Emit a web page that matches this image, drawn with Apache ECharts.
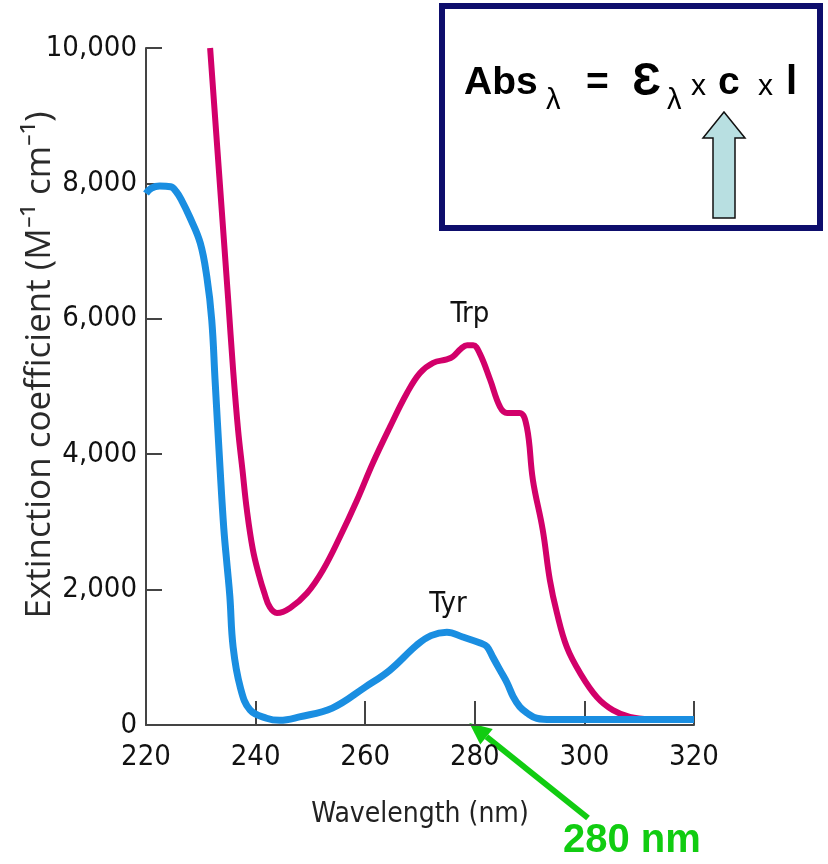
<html lang="en">
<head>
    <meta charset="UTF-8">
    <title>Extinction coefficient</title>
    <script src="https://cdn.jsdelivr.net/npm/echarts@6/dist/echarts.min.js"></script>
    <style>
        body { margin: 0; background: #fff; }
    </style>
</head>
<body>
    <div id="main" style="width: 828px;height: 864px"></div>
    <script type="text/javascript">
        // wavelength (nm) and extinction coefficient
        var tyrNm = [220, 221, 222.5, 224.5, 225.5, 226.5, 228, 229.9, 231.1, 232, 232.6, 233.5, 234.2, 234.8, 235.3, 235.9, 237.2, 239, 242, 244.4, 248, 254, 260, 264.5, 269.4, 272, 274.9, 277.8, 281, 282.2, 283.3, 284.6, 285.9, 287, 288.2, 289.5, 291.3, 294, 300, 310, 320];
        var tyrEps = [7850, 7930, 7960, 7950, 7880, 7750, 7500, 7120, 6620, 5980, 5100, 3810, 2900, 2350, 1900, 1150, 560, 220, 100, 70, 120, 250, 560, 810, 1180, 1320, 1370, 1300, 1210, 1160, 1000, 810, 620, 420, 270, 180, 100, 80, 80, 80, 80];
        var trpNm = [231.7, 233.4, 235, 235.9, 236.8, 237.6, 238.4, 239.5, 240.6, 241.6, 242.6, 243.9, 246.3, 249.4, 252.3, 255.4, 258.5, 261.4, 264.5, 267.6, 270, 272.4, 274.9, 276, 277.5, 278.6, 279.7, 280.9, 282.8, 284.6, 285.9, 288.2, 289.5, 290.6, 292.4, 293.7, 295, 296.8, 299.2, 302.3, 305.2, 308.3, 312];
        var trpEps = [10000, 8080, 6280, 5240, 4360, 3770, 3180, 2590, 2220, 1950, 1740, 1655, 1730, 1950, 2290, 2780, 3320, 3870, 4400, 4900, 5200, 5350, 5400, 5440, 5560, 5610, 5610, 5490, 5100, 4700, 4610, 4610, 4400, 3620, 2880, 2140, 1650, 1150, 770, 410, 220, 120, 85];
        var xTicks = [220, 320, 20];
        var yTicks = [0, 10000, 2000];
        var curveLabels = [['Trp', 279.1, 6070], ['Tyr', 275.1, 1773]];
        var arrowNm = 279;

        function pairs(xs, ys) {
            var out = [];
            for (var i = 0; i < xs.length; i++) out.push([xs[i], ys[i]]);
            return out;
        }

        var tickFont = '"DejaVu Sans Condensed", sans-serif';
        var myChart = echarts.init(document.getElementById('main'));
        var option = {
            animation: false,
            backgroundColor: '#fff',
            grid: { left: 146, right: 134, top: 48, bottom: 139 },
            xAxis: {
                type: 'value',
                min: xTicks[0], max: xTicks[1], interval: xTicks[2],
                name: 'Wavelength (nm)',
                nameLocation: 'middle',
                nameGap: 76,
                nameTextStyle: { fontFamily: tickFont, fontSize: 28, color: '#222' },
                axisLine: { lineStyle: { color: '#444', width: 2 } },
                axisTick: { inside: true, length: 24, lineStyle: { color: '#444', width: 2 } },
                axisLabel: { fontFamily: tickFont, fontSize: 29, color: '#111', margin: 18 },
                splitLine: { show: false }
            },
            yAxis: {
                type: 'value',
                min: yTicks[0], max: yTicks[1], interval: yTicks[2],
                axisLine: { show: true, lineStyle: { color: '#444', width: 2 } },
                axisTick: { show: true, inside: true, length: 16, lineStyle: { color: '#444', width: 2 } },
                axisLabel: {
                    fontFamily: tickFont, fontSize: 29, color: '#111', margin: 9,
                    formatter: function (v) { return echarts.format.addCommas(v); }
                },
                splitLine: { show: false }
            },
            series: [{
                name: 'Trp',
                type: 'line',
                data: pairs(trpNm, trpEps),
                smooth: 0.4,
                symbol: 'none',
                z: 2,
                lineStyle: { color: '#d2006a', width: 6 },
                markPoint: {
                    symbol: 'circle', symbolSize: 0,
                    label: { show: true, position: 'inside', formatter: '{b}', fontFamily: tickFont, fontSize: 29, color: '#111' },
                    data: curveLabels.map(function (d) { return { name: d[0], coord: [d[1], d[2]] }; })
                }
            }, {
                name: 'Tyr',
                type: 'line',
                data: pairs(tyrNm, tyrEps),
                smooth: 0.4,
                symbol: 'none',
                z: 3,
                lineStyle: { color: '#1a8ee1', width: 7 }
            }],
            graphic: [{
                type: 'text', rotation: Math.PI / 2, x: 40, y: 365,
                style: {
                    text: 'Extinction coefficient (M\u207B\u00B9 cm\u207B\u00B9)',
                    font: '35px "Open Sans", sans-serif', fill: '#2a2a2a',
                    align: 'center', verticalAlign: 'middle'
                }
            }]
        };
        myChart.setOption(option);

        // annotations: formula box and 280 nm pointer
        var tip = myChart.convertToPixel({ gridIndex: 0 }, [arrowNm, 0]);
        tip[1] -= 2;
        var tail = [588, 818];
        var dx = tip[0] - tail[0], dy = tip[1] - tail[1];
        var len = Math.sqrt(dx * dx + dy * dy);
        var ux = dx / len, uy = dy / len;
        var base = [tip[0] - 22 * ux, tip[1] - 22 * uy];
        var hw = 10;
        var green = '#11cc11';
        function f(s, b) { return (b ? 'bold ' : '') + s + 'px "Liberation Sans", Arial, sans-serif'; }
        // place text by its baseline
        function txt(str, x, baseline, size, b, color) {
            return {
                type: 'text', x: x, y: baseline - 0.84 * size,
                style: { text: str, font: f(size, b), fill: color || '#000', verticalAlign: 'top' }
            };
        }

        var extra = [
            { type: 'rect', shape: { x: 442, y: 6, width: 378, height: 222 }, style: { fill: '#fff', stroke: '#0e0e6c', lineWidth: 6 } },
            txt('Abs', 464, 97, 39, true),
            txt('\u03BB', 546, 111, 29),
            txt('=', 586, 97, 39, true),
            txt('\u0190', 632, 98, 46, true),
            txt('\u03BB', 667, 111, 29),
            txt('x', 691, 97, 30),
            txt('c', 718, 97, 39, true),
            txt('x', 758, 97, 30),
            txt('l', 786, 97, 40, true),
            {
                type: 'polygon',
                shape: { points: [[724, 112], [745, 138], [735, 138], [735, 218], [713, 218], [713, 138], [703, 138]] },
                style: { fill: '#b8dfe1', stroke: '#111', lineWidth: 1.5 }
            },
            { type: 'line', shape: { x1: tail[0], y1: tail[1], x2: base[0], y2: base[1] }, style: { stroke: green, lineWidth: 6 } },
            {
                type: 'polygon',
                shape: { points: [tip, [base[0] - uy * hw, base[1] + ux * hw], [base[0] + uy * hw, base[1] - ux * hw]] },
                style: { fill: green }
            },
            txt('280 nm', 563, 855, 40, true, green)
        ];
        myChart.setOption({ graphic: option.graphic.concat(extra) });
    </script>
</body>
</html>
